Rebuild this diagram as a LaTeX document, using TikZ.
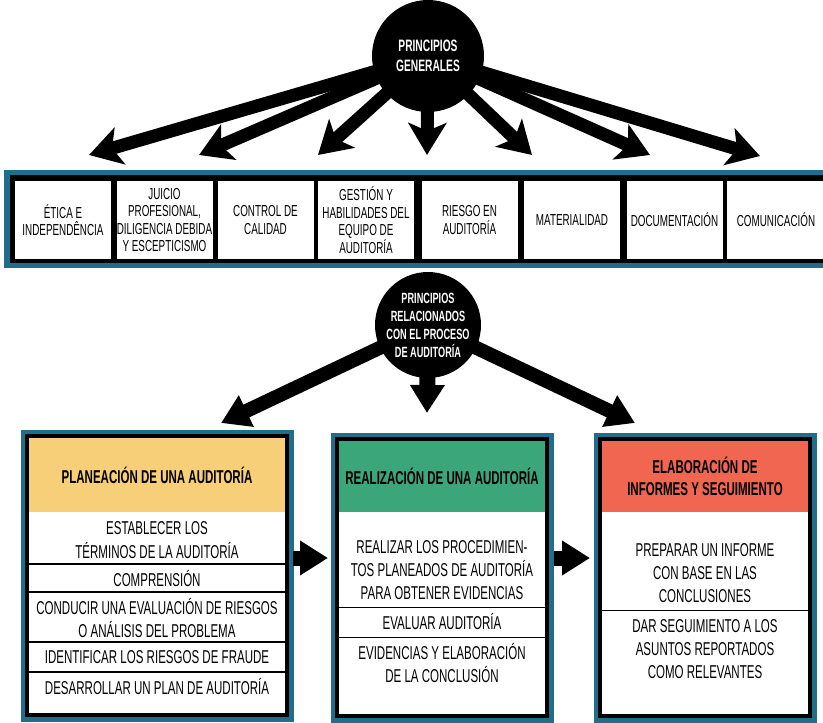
\documentclass[tikz,border=0pt]{standalone}
\usepackage{fontspec}
\setmainfont{Liberation Sans}[FakeStretch=0.62]
\usepackage{tikz}
\usetikzlibrary{arrows.meta,backgrounds}
\definecolor{bandblue}{RGB}{32,110,140}
\definecolor{planyellow}{RGB}{246,207,120}
\definecolor{doitgreen}{RGB}{58,166,122}
\definecolor{reportred}{RGB}{240,102,80}
\tikzstyle{Hub}=[circle, fill=black, text=white, align=center, inner sep=0pt, font=\bfseries\fontsize{16.5}{20}\selectfont]
\tikzstyle{Cell}=[rectangle, fill=white, minimum width=96, minimum height=78, align=center, inner sep=0pt, font=\fontsize{15.9}{17.5}\selectfont]
\tikzstyle{Panel}=[rectangle, draw=black, line width=4, fill=white, inner sep=0pt, preaction={draw=bandblue, line width=13}]
\tikzstyle{Head}=[rectangle, align=center, inner sep=0pt, font=\bfseries\fontsize{18.6}{22}\selectfont]
\tikzstyle{Item}=[align=center, inner sep=0pt, font=\fontsize{18.6}{23}\selectfont]
\tikzstyle{Rule}=[line width=1.2, black]
\tikzstyle{Fan}=[line width=13, -{Stealth[length=32pt,width=38pt,inset=8pt]}]
\tikzstyle{Push}=[line width=15, -{Triangle[length=28pt,width=33pt]}]

\begin{document}
\begin{tikzpicture}[x=1pt, y=-1pt]
    \useasboundingbox (0,0) rectangle (823,723);

    % principios generales
    \path
    (428,56) node[Hub, minimum size=112] (pg) {PRINCIPIOS\\GENERALES};
    \coordinate (t1) at (89,155);
    \coordinate (t2) at (199,155);
    \coordinate (t3) at (318,155);
    \coordinate (t4) at (427,155);
    \coordinate (t5) at (532,155);
    \coordinate (t6) at (650,155);
    \coordinate (t7) at (760,156);

    \fill[bandblue] (4,170) rectangle (823,268);
    \fill[black] (10,175) rectangle (823,262.5);
    \path
    (63,220) node[Cell] (d1) {ÉTICA E\\INDEPENDÊNCIA}
    (164.5,220) node[Cell] (d2) {JUICIO\\PROFESIONAL,\\DILIGENCIA DEBIDA\\Y ESCEPTICISMO}
    (265.5,220) node[Cell] (d3) {CONTROL DE\\CALIDAD}
    (366,220) node[Cell] (d4) {GESTIÓN Y\\HABILIDADES DEL\\EQUIPO DE\\AUDITORÍA}
    (469.5,220) node[Cell] (d5) {RIESGO EN\\AUDITORÍA}
    (572,220) node[Cell] (d6) {MATERIALIDAD}
    (674.5,220) node[Cell] (d7) {DOCUMENTACIÓN}
    (776,220) node[Cell, minimum width=98] (d8) {COMUNICACIÓN};

    % principios del proceso
    \path
    (428,325) node[Hub, minimum size=106, font=\bfseries\fontsize{14.8}{18}\selectfont] (pr) {PRINCIPIOS\\RELACIONADOS\\CON EL PROCESO\\DE AUDITORÍA};
    \coordinate (u1) at (221,423);
    \coordinate (u2) at (427,413);
    \coordinate (u3) at (635,423);

    \begin{scope}[on background layer]
    \fill[white] (0,0) rectangle (823,723);
    \draw[Fan] (pg.center) -- (t1);
    \draw[Fan] (pg.center) -- (t2);
    \draw[Fan] (pg.center) -- (t3);
    \draw[Fan] (pg.center) -- (t4);
    \draw[Fan] (pg.center) -- (t5);
    \draw[Fan] (pg.center) -- (t6);
    \draw[Fan] (pg.center) -- (t7);
    \draw[Push, line width=14] (pr.center) -- (u1);
    \draw[Push, line width=16] (pr.center) -- (u2);
    \draw[Push, line width=14] (pr.center) -- (u3);
    \end{scope}

    % tres etapas
    \path
    (157,575.5) node[Panel, minimum width=260, minimum height=279] (p1) {}
    (442,577.5) node[Panel, minimum width=210, minimum height=277] (p2) {}
    (705,577.5) node[Panel, minimum width=210, minimum height=277] (p3) {};

    \path
    (157,475) node[Head, fill=planyellow, minimum width=256, minimum height=74] (h1) {PLANEACIÓN DE UNA AUDITORÍA}
    (442,476.5) node[Head, fill=doitgreen, minimum width=206, minimum height=71] (h2) {REALIZACIÓN DE UNA AUDITORÍA}
    (705,476.5) node[Head, fill=reportred, minimum width=206, minimum height=71] (h3) {ELABORACIÓN DE\\INFORMES Y SEGUIMIENTO};

    \path
    (157,540) node[Item, font=\fontsize{18.6}{24}\selectfont] (a1) {ESTABLECER LOS\\TÉRMINOS DE LA AUDITORÍA}
    (157,579) node[Item] (a2) {COMPRENSIÓN}
    (157,618) node[Item] (a3) {CONDUCIR UNA EVALUACIÓN DE RIESGOS\\O ANÁLISIS DEL PROBLEMA}
    (157,657) node[Item] (a4) {IDENTIFICAR LOS RIESGOS DE FRAUDE}
    (157,687) node[Item] (a5) {DESARROLLAR UN PLAN DE AUDITORÍA};
    \draw[Rule] (p1.west |- 0,564) -- (p1.east |- 0,564);
    \draw[Rule] (p1.west |- 0,592) -- (p1.east |- 0,592);
    \draw[Rule] (p1.west |- 0,642) -- (p1.east |- 0,642);
    \draw[Rule] (p1.west |- 0,672) -- (p1.east |- 0,672);

    \path
    (442,570) node[Item] (b1) {REALIZAR LOS PROCEDIMIEN-\\TOS PLANEADOS DE AUDITORÍA\\PARA OBTENER EVIDENCIAS}
    (442,622) node[Item] (b2) {EVALUAR AUDITORÍA}
    (442,663) node[Item] (b3) {EVIDENCIAS Y ELABORACIÓN\\DE LA CONCLUSIÓN};
    \draw[Rule] (p2.west |- 0,607.5) -- (p2.east |- 0,607.5);
    \draw[Rule] (p2.west |- 0,637.5) -- (p2.east |- 0,637.5);

    \path
    (705,573) node[Item] (c1) {PREPARAR UN INFORME\\CON BASE EN LAS\\CONCLUSIONES}
    (705,649) node[Item] (c2) {DAR SEGUIMIENTO A LOS\\ASUNTOS REPORTADOS\\COMO RELEVANTES};
    \draw[Rule] (p3.west |- 0,610.5) -- (p3.east |- 0,610.5);

    \draw[Push, line width=15, shorten <=4pt, shorten >=7pt] ([yshift=17.5]p1.east) -- ([yshift=17.5]p1.east -| p2.west);
    \draw[Push, line width=15, shorten <=4.5pt, shorten >=8pt] ([yshift=19.5]p2.east) -- ([yshift=19.5]p2.east -| p3.west);
\end{tikzpicture}
\end{document}
